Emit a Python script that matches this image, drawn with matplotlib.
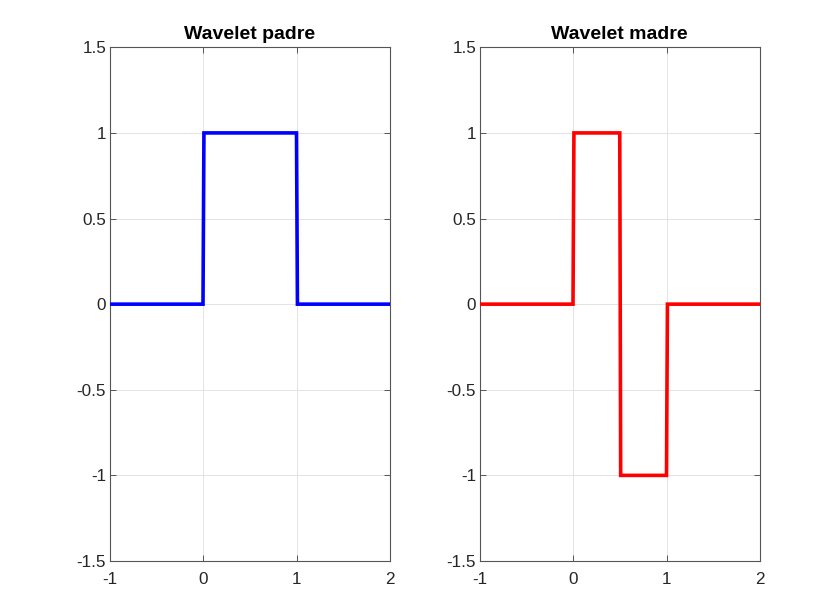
import matplotlib
matplotlib.use("Agg")
import matplotlib.pyplot as plt

plt.rcParams['font.family'] = ['Liberation Sans', 'DejaVu Sans']

x_padre = [-1, 0, 0.01, 1, 1.01, 2]
y_padre = [0, 0, 1, 1, 0, 0]
x_madre = [-1, 0, 0.01, 0.5, 0.51, 1, 1.01, 2]
y_madre = [0, 0, 1, 1, -1, -1, 0, 0]
xticks = [-1, 0, 1, 2]
yticks = [-1.5, -1, -0.5, 0, 0.5, 1, 1.5]
ytick_labels = ['-1.5', '-1', '-0.5', '0', '0.5', '1', '1.5']
titles = ['Wavelet padre', 'Wavelet madre']
colors = ['#0000ff', '#ff0000']

fig = plt.figure(figsize=(8.4, 5.89), dpi=100)
W, H = 840, 589
axes_px = [(109.5, 390), (479.5, 760)]
top, bottom = 47.3, 561
for (l, r), xs, ys, t, c in zip(axes_px, [x_padre, x_madre], [y_padre, y_madre], titles, colors):
    ax = fig.add_axes([l / W, 1 - bottom / H, (r - l) / W, (bottom - top) / H])
    ax.plot(xs, ys, color=c, linewidth=2.6, solid_joinstyle='miter', zorder=3)
    ax.set_xlim(-1, 2)
    ax.set_ylim(-1.5, 1.5)
    ax.set_xticks(xticks)
    ax.set_xticklabels([str(v) for v in xticks])
    ax.set_yticks(yticks)
    ax.set_yticklabels(ytick_labels)
    ax.grid(True, color='#e3e3e3', linewidth=0.7)
    ax.set_axisbelow(True)
    ax.tick_params(direction='in', length=4, width=0.7, color='#555555',
                   labelsize=12.3, labelcolor='#262626', top=True, right=True)
    ax.tick_params(axis='x', pad=8)
    ax.tick_params(axis='y', pad=2.5)
    for s in ax.spines.values():
        s.set_color('#555555')
        s.set_linewidth(0.8)
    ax.set_title(t, fontsize=14, fontweight='bold', pad=6)

fig.savefig('out.png', dpi=100)
